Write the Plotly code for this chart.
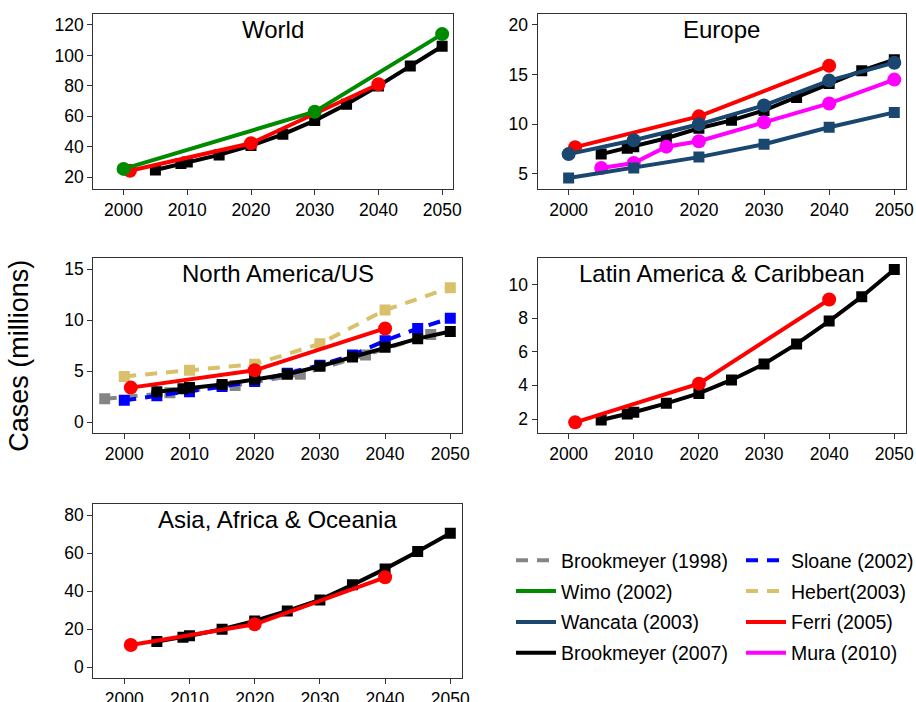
import plotly.graph_objects as go

# ---------------- data ----------------
B07_YEARS = [2005, 2009, 2010, 2015, 2020, 2025, 2030, 2035, 2040, 2045, 2050]
FERRI_YEARS = [2001, 2020, 2040]
WIMO_YEARS = [2000, 2030, 2050]
WANCATA_YEARS = [2000, 2010, 2020, 2030, 2040, 2050]
MURA_YEARS = [2005, 2010, 2015, 2020, 2030, 2040, 2050]
B98_YEARS = [1997, 2007, 2017, 2027, 2037, 2047]
SLOANE_YEARS = [2000, 2005, 2010, 2015, 2020, 2025, 2030, 2035, 2040, 2045, 2050]
HEBERT_YEARS = [2000, 2010, 2020, 2030, 2040, 2050]

# World
world_b07 = [24.8, 29.0, 30.0, 34.7, 40.8, 48.2, 57.2, 67.9, 80.0, 93.1, 106.0]
world_ferri = [24.3, 42.3, 81.1]
world_wimo = [25.5, 63.0, 114.0]

# Europe
europe_b07 = [7.0, 7.6, 7.75, 8.6, 9.6, 10.4, 11.4, 12.7, 14.1, 15.4, 16.5]
europe_ferri = [7.7, 10.8, 15.9]
europe_wancata_a = [7.0, 8.4, 10.0, 11.9, 14.4, 16.2]
europe_wancata_b = [4.6, 5.6, 6.7, 8.0, 9.7, 11.2]
europe_mura = [5.6, 6.1, 7.75, 8.3, 10.2, 12.1, 14.5]

# North America / US
na_b98 = [2.3, 2.9, 3.6, 4.7, 6.6, 8.6]
na_sloane = [2.15, 2.6, 3.0, 3.5, 4.0, 4.8, 5.6, 6.6, 8.0, 9.2, 10.2]
na_hebert = [4.5, 5.1, 5.7, 7.7, 11.0, 13.2]
na_ferri = [3.4, 5.1, 9.2]
na_b07 = [3.0, 3.3, 3.4, 3.7, 4.2, 4.7, 5.5, 6.4, 7.35, 8.2, 8.9]

# Latin America & Caribbean
la_ferri = [1.8, 4.1, 9.1]
la_b07 = [1.94, 2.3, 2.4, 2.93, 3.52, 4.32, 5.27, 6.46, 7.82, 9.27, 10.89]

# Asia, Africa & Oceania
asia_ferri = [11.7, 22.6, 47.3]
asia_b07 = [13.5, 15.8, 16.5, 20.0, 24.3, 29.6, 35.4, 43.3, 51.7, 60.8, 70.4]

PANEL_TITLES = ["World", "Europe", "North America/US",
                "Latin America &amp; Caribbean", "Asia, Africa &amp; Oceania"]
X_TICKS = [2000, 2010, 2020, 2030, 2040, 2050]
Y_TICKS = [[20, 40, 60, 80, 100, 120], [5, 10, 15, 20], [0, 5, 10, 15],
           [2, 4, 6, 8, 10], [0, 20, 40, 60, 80]]

# ---------------- styles ----------------
W, H = 916, 702
FONT = "Liberation Sans, Arial, Helvetica, sans-serif"
STY = {
    "b98":     dict(name="Brookmeyer (1998)", color="#858585", dash="12px,9px", sym="square", leg="legend", rank=1),
    "wimo":    dict(name="Wimo (2002)", color="#008a00", dash="solid", sym="circle", leg="legend", rank=2),
    "wancata": dict(name="Wancata (2003)", color="#1a476f", dash="solid", sym="circle", leg="legend", rank=3),
    "b07":     dict(name="Brookmeyer (2007)", color="#000000", dash="solid", sym="square", leg="legend", rank=4),
    "sloane":  dict(name="Sloane (2002)", color="#0000ff", dash="12px,9px", sym="square", leg="legend2", rank=5),
    "hebert":  dict(name="Hebert(2003)", color="#d9c06b", dash="12px,9px", sym="square", leg="legend2", rank=6),
    "ferri":   dict(name="Ferri (2005)", color="#ff0000", dash="solid", sym="circle", leg="legend2", rank=7),
    "mura":    dict(name="Mura (2010)", color="#ff00ff", dash="solid", sym="circle", leg="legend2", rank=8),
}

# panel boxes in pixels: (left, right, top, bottom)
BOXES = [(93.3, 453.3, 14, 189), (537.7, 905.7, 14, 189),
         (93.3, 461.7, 258.3, 433.3), (537.7, 905.7, 258.3, 433.3),
         (93.3, 461.7, 504, 678.3)]
Y_RANGES = [[12.3, 127.2], [3.49, 21.1], [-1.08, 16.08], [1.15, 11.55], [-5.8, 85.8]]
X_RANGE = [1995.25, 2051.75]

fig = go.Figure()
shown = set()


def add(panel, key, xs, ys, sym=None):
    s = STY[key]
    ax = "" if panel == 1 else str(panel)
    show = key not in shown
    shown.add(key)
    fig.add_trace(go.Scatter(
        x=xs, y=ys, mode="lines", xaxis="x" + ax, yaxis="y" + ax,
        line=dict(color=s["color"], width=4, dash=s["dash"]),
        name=s["name"], showlegend=show, legend=s["leg"], legendrank=s["rank"],
        legendgroup=key, hoverinfo="skip"))
    fig.add_trace(go.Scatter(
        x=xs, y=ys, mode="markers", xaxis="x" + ax, yaxis="y" + ax,
        marker=dict(color=s["color"], symbol=sym or s["sym"],
                    size=14 if (sym or s["sym"]) == "circle" else 11),
        name=s["name"], showlegend=False, legendgroup=key, legend=s["leg"]))


# World
add(1, "b07", B07_YEARS, world_b07)
add(1, "ferri", FERRI_YEARS, world_ferri)
add(1, "wimo", WIMO_YEARS, world_wimo)
# Europe
add(2, "b07", B07_YEARS, europe_b07)
add(2, "mura", MURA_YEARS, europe_mura)
add(2, "ferri", FERRI_YEARS, europe_ferri)
add(2, "wancata", WANCATA_YEARS, europe_wancata_b, sym="square")
add(2, "wancata", WANCATA_YEARS, europe_wancata_a)
# North America
add(3, "b98", B98_YEARS, na_b98)
add(3, "sloane", SLOANE_YEARS, na_sloane)
add(3, "b07", B07_YEARS, na_b07)
add(3, "hebert", HEBERT_YEARS, na_hebert)
add(3, "ferri", FERRI_YEARS, na_ferri)
# Latin America
add(4, "b07", B07_YEARS, la_b07)
add(4, "ferri", FERRI_YEARS, la_ferri)
# Asia
add(5, "b07", B07_YEARS, asia_b07)
add(5, "ferri", FERRI_YEARS, asia_ferri)

LEG = dict(yanchor="top", xanchor="left", font=dict(size=19.5, family=FONT),
           tracegroupgap=2.5, itemwidth=40, bgcolor="rgba(0,0,0,0)",
           traceorder="grouped")
layout = dict(
    width=W, height=H, margin=dict(l=0, r=0, t=0, b=0, autoexpand=False),
    paper_bgcolor="white", plot_bgcolor="white",
    font=dict(family=FONT, color="black", size=17),
    showlegend=True,
    legend=dict(x=511 / W, y=1 - 541 / H, **LEG),
    legend2=dict(x=741 / W, y=1 - 541 / H, **LEG),
)
annotations = []
for i, (l, r, t, b) in enumerate(BOXES):
    ax = "" if i == 0 else str(i + 1)
    common = dict(showline=True, linecolor="#333333", linewidth=1.3, mirror=True,
                  ticks="outside", ticklen=5, tickwidth=1.3, tickcolor="#333333",
                  showgrid=False, zeroline=False, automargin=False,
                  tickfont=dict(size=17.5, family=FONT))
    layout["xaxis" + ax] = dict(domain=[l / W, r / W], range=X_RANGE, tickvals=X_TICKS,
                               anchor="y" + ax, **common)
    layout["yaxis" + ax] = dict(domain=[1 - b / H, 1 - t / H], range=Y_RANGES[i],
                               tickvals=Y_TICKS[i], anchor="x" + ax, **common)
    annotations.append(dict(text=PANEL_TITLES[i], xref="paper", yref="paper",
                            x=(l + r) / 2 / W, y=1 - (t + 15.5) / H,
                            xanchor="center", yanchor="middle", showarrow=False,
                            font=dict(size=24, family=FONT)))
annotations.append(dict(text="Cases (millions)", xref="paper", yref="paper",
                        x=19 / W, y=1 - 355.8 / H, textangle=-90,
                        xanchor="center", yanchor="middle", showarrow=False,
                        font=dict(size=27, family=FONT)))
layout["annotations"] = annotations
fig.update_layout(**layout)
fig.write_html("out.html", config={"displayModeBar": False},
               post_script="document.body.style.margin='0';"
                           "document.body.style.overflow='hidden';")
